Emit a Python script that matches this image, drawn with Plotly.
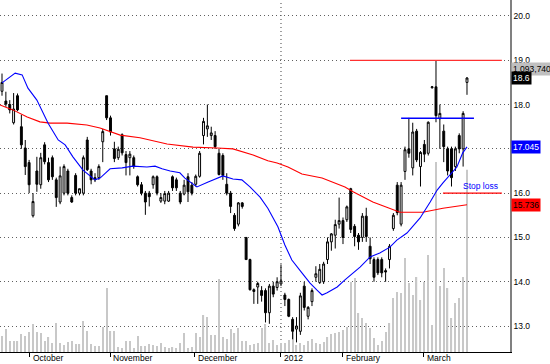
import plotly.graph_objects as go

# ---- data (trading-day index based) ----
day = list(range(121))

open_ = [18.30, 18.08, 18.00, 17.59, 18.20, 17.50, 17.02, 16.69, 15.49, 16.50,
         16.19, 17.09, 16.69, 16.80, 16.30, 15.80, 16.00, 16.50, 15.90, 16.40,
         16.00, 16.00, 17.20, 16.50, 16.30, 16.35, 17.16, 18.20, 17.70, 17.00,
         16.80, 17.32, 16.87, 16.80, 16.80, 16.37, 16.19, 16.00, 16.00, 16.19,
         16.37, 15.82, 15.82, 15.82, 16.37, 16.30, 16.00, 15.98, 16.37, 16.18,
         16.20, 16.38, 17.30, 17.45, 17.30, 17.30, 16.90, 16.85, 16.20, 16.00,
         15.50, 15.30, 15.78, 15.00, 14.50, 13.82, 13.88, 13.80, 13.80, 13.30,
         13.90, 13.87, 13.95, 13.70, 13.60, 13.15, 12.93, 12.88, 13.90, 13.22,
         13.55, 14.10, 13.98, 14.00, 14.50, 14.90, 15.05, 15.30, 15.38, 15.40,
         16.10, 15.25, 15.05, 15.00, 15.48, 14.80, 14.50, 14.50, 14.50, 14.25,
         14.50, 15.20, 16.18, 15.30, 16.49, 17.00, 16.57, 17.40, 16.60, 17.10,
         16.90, 18.38, 18.40, 17.68, 17.40, 17.00, 17.00, 16.60, 17.30, 17.00,
         18.50]
high = [18.70, 18.29, 18.10, 18.26, 18.25, 17.77, 17.20, 16.75, 16.00, 16.82,
        16.91, 17.15, 16.80, 16.85, 16.35, 16.60, 16.65, 16.55, 15.95, 16.45,
        16.10, 16.85, 17.27, 16.55, 16.45, 16.65, 17.45, 18.20, 17.75, 17.16,
        17.05, 17.35, 16.95, 16.95, 16.85, 16.40, 16.25, 16.05, 16.05, 16.40,
        16.40, 16.00, 16.05, 16.05, 16.40, 16.35, 16.05, 16.30, 16.45, 16.25,
        16.42, 16.95, 17.70, 18.00, 17.50, 17.40, 17.00, 16.90, 16.45, 16.05,
        15.55, 15.80, 15.80, 15.00, 14.52, 13.85, 14.00, 13.90, 13.85, 13.95,
        14.00, 14.10, 14.39, 13.75, 13.62, 13.20, 13.20, 13.75, 14.00, 13.45,
        13.85, 14.35, 14.40, 14.45, 15.00, 15.10, 15.40, 15.90, 15.45, 15.72,
        16.12, 15.30, 15.10, 15.55, 15.67, 15.00, 14.55, 14.55, 14.55, 14.30,
        14.85, 15.55, 16.25, 16.25, 17.05, 17.70, 17.59, 17.45, 16.95, 17.20,
        17.62, 18.42, 19.00, 18.00, 17.55, 17.05, 17.05, 17.05, 17.35, 17.85,
        18.62]
low = [18.20, 17.95, 17.80, 17.55, 17.85, 17.00, 16.41, 16.00, 15.45, 16.03,
       16.10, 16.65, 16.25, 16.30, 15.69, 15.75, 15.95, 15.95, 15.78, 15.95,
       15.95, 15.95, 16.50, 16.20, 16.25, 16.30, 16.70, 17.65, 17.30, 16.70,
       16.75, 16.85, 16.40, 16.40, 16.55, 16.15, 15.95, 15.51, 15.70, 16.10,
       15.95, 15.78, 15.75, 15.80, 16.05, 16.05, 15.75, 15.95, 15.80, 15.95,
       16.15, 16.35, 17.10, 17.27, 17.20, 17.00, 16.40, 16.30, 15.95, 15.55,
       15.15, 15.25, 15.65, 14.50, 13.80, 13.50, 13.50, 13.55, 13.08, 13.05,
       13.65, 13.80, 13.90, 13.45, 13.20, 12.70, 12.63, 12.80, 13.35, 13.15,
       13.45, 14.00, 13.95, 13.95, 14.40, 14.70, 14.75, 15.20, 14.85, 15.35,
       15.10, 14.80, 14.72, 14.90, 14.90, 14.40, 14.00, 14.15, 14.10, 14.00,
       14.30, 15.15, 15.50, 15.25, 16.30, 16.80, 16.40, 16.70, 16.15, 16.70,
       16.85, 18.36, 17.60, 17.00, 16.70, 16.40, 16.15, 16.50, 16.90, 16.60,
       18.22]
close = [18.50, 18.01, 17.88, 17.90, 17.88, 17.09, 16.60, 16.19, 15.81, 16.20,
         16.80, 16.71, 16.30, 16.37, 15.90, 16.39, 16.60, 16.00, 15.80, 16.00,
         16.10, 16.80, 16.53, 16.30, 16.35, 16.60, 17.39, 17.70, 17.38, 16.78,
         16.99, 16.91, 16.69, 16.88, 16.60, 16.19, 16.00, 15.80, 15.92, 16.37,
         16.00, 15.90, 15.99, 16.00, 16.12, 16.12, 15.80, 16.18, 16.03, 16.00,
         16.38, 16.90, 17.62, 17.52, 17.36, 17.05, 16.42, 16.40, 16.00, 15.70,
         15.20, 15.78, 15.70, 14.50, 13.82, 13.78, 13.96, 13.69, 13.30, 13.90,
         13.72, 14.00, 14.02, 13.60, 13.22, 12.88, 13.00, 13.68, 13.42, 13.42,
         13.80, 14.18, 14.28, 14.40, 14.90, 15.08, 15.29, 15.38, 15.00, 15.69,
         15.18, 15.02, 14.90, 15.48, 15.02, 14.52, 14.10, 14.20, 14.20, 14.22,
         14.80, 15.50, 15.56, 16.18, 16.98, 16.90, 17.38, 16.75, 16.92, 16.88,
         17.60, 18.40, 17.75, 17.80, 17.05, 16.50, 16.35, 17.00, 17.00, 17.80,
         18.60]
volume = [96000, 138000, 66000, 66000, 66000, 108000, 96000, 120000, 168000, 120000,
          114000, 66000, 90000, 54000, 174000, 54000, 42000, 60000, 66000, 48000,
          48000, 186000, 126000, 48000, 36000, 36000, 150000, 384000, 126000, 126000,
          30000, 24000, 66000, 66000, 24000, 96000, 36000, 36000, 48000, 42000,
          36000, 54000, 30000, 24000, 30000, 24000, 54000, 114000, 24000, 30000,
          114000, 90000, 222000, 210000, 102000, 102000, 438000, 90000, 78000, 138000,
          114000, 144000, 66000, 66000, 42000, 48000, 54000, 144000, 168000, 54000,
          72000, 42000, 54000, 54000, 72000, 120000, 42000, 54000, 42000, 66000,
          78000, 54000, 48000, 60000, 90000, 108000, 114000, 120000, 132000, 150000,
          420000, 444000, 234000, 204000, 174000, 144000, 84000, 42000, 66000, 120000,
          174000, 324000, 360000, 354000, 564000, 414000, 342000, 450000, 312000, 420000,
          582000, 162000, 1140000, 396000, 504000, 384000, 204000, 294000, 324000, 450000,
          1093740]

# moving averages (day position, value)
ma_fast_x = [0, 3.4, 5.2, 6.7, 9.0, 11.9, 14.5, 16.3, 18.3, 20.9, 24.0, 25.3, 27.9, 31.0,
             33.8, 37.4, 39.5, 41.3, 43.4, 45.9, 47.2, 50.3, 53.2, 57.0, 59.6, 61.9, 64.0,
             66.6, 68.6, 69.9, 71.2, 73.0, 74.8, 77.4, 79.5, 81.3, 82.6, 83.9, 86.5, 88.5,
             90.6, 92.4, 95.0, 97.5, 100.1, 101.9, 104.5, 107.9, 110.5, 112.3, 113.8,
             116.1, 117.4, 118.9, 120]
ma_fast_y = [18.49, 18.71, 18.67, 18.37, 18.10, 17.58, 17.20, 17.09, 16.82, 16.52, 16.30,
             16.34, 16.55, 16.57, 16.61, 16.59, 16.61, 16.55, 16.50, 16.46, 16.34, 16.14,
             16.25, 16.39, 16.32, 16.30, 16.14, 15.91, 15.66, 15.46, 15.24, 14.83, 14.49,
             14.20, 13.97, 13.81, 13.70, 13.75, 13.88, 14.04, 14.20, 14.33, 14.56, 14.65,
             14.78, 14.94, 15.10, 15.44, 15.80, 16.07, 16.23, 16.46, 16.59, 16.91, 17.045]
ma_slow_x = [-0.5, 2.8, 6.5, 9.8, 12.4, 16.8, 21.9, 25.3, 30.5, 35.6, 42.6, 49.3, 55.5,
             59.6, 64.8, 68.6, 71.0, 73.8, 77.4, 82.6, 88.5, 90.6, 95.7, 100.9, 102.7,
             108.6, 113.8, 120]
ma_slow_y = [17.99, 17.88, 17.72, 17.61, 17.58, 17.58, 17.54, 17.47, 17.31, 17.25, 17.11,
             17.04, 17.02, 17.00, 16.86, 16.73, 16.68, 16.59, 16.43, 16.34, 16.14, 16.03,
             15.80, 15.62, 15.57, 15.57, 15.66, 15.736]

month_pos = [7.2, 27.9, 49.8, 72.0, 88.0, 108.9]
month_labels = ["October", "November", "December", "2012", "February", "March"]
price_ticks = [13, 14, 15, 16, 17, 18, 19, 20]
# 17.0 is hidden under the 17.045 marker box in the original
price_tick_text = ["13.0", "14.0", "15.0", "16.0", "", "18.0", "19.0", "20.0"]

resistance = 19.0
resistance_span = [89.8, 129.0]
breakout = 17.69
breakout_span = [103.0, 121.8]
stop_loss = 16.0
stop_span = [113.8, 129.0]

last_close_label = "18.6"
fast_label = "17.045"
slow_label = "15.736"
volume_label = "1,093,740"

FONT = "Liberation Sans, Arial, sans-serif"

fig = go.Figure()

fig.add_trace(go.Bar(x=day, y=volume, yaxis="y", marker=dict(color="#c8c8c8", line=dict(width=0)),
                     width=0.32, showlegend=False, hoverinfo="skip"))

fig.add_trace(go.Scatter(x=ma_slow_x, y=ma_slow_y, yaxis="y2", mode="lines",
                         line=dict(color="#ff0000", width=1.1), showlegend=False))
fig.add_trace(go.Scatter(x=ma_fast_x, y=ma_fast_y, yaxis="y2", mode="lines",
                         line=dict(color="#0000ff", width=1.1), showlegend=False))

fig.add_trace(go.Candlestick(x=day, open=open_, high=high, low=low, close=close, yaxis="y2",
                             increasing=dict(fillcolor="#ffffff", line=dict(color="#000000", width=1)),
                             decreasing=dict(fillcolor="#000000", line=dict(color="#000000", width=1)),
                             whiskerwidth=0, showlegend=False))

fig.add_trace(go.Scatter(x=resistance_span, y=[resistance, resistance], yaxis="y2", mode="lines",
                         line=dict(color="#ff3030", width=1.2), showlegend=False))
fig.add_trace(go.Scatter(x=breakout_span, y=[breakout, breakout], yaxis="y2", mode="lines",
                         line=dict(color="#0000ff", width=1.5), showlegend=False))
fig.add_trace(go.Scatter(x=stop_span, y=[stop_loss, stop_loss], yaxis="y2", mode="lines",
                         line=dict(color="#ff0000", width=1.2), showlegend=False))

annotations = []
for pos, lab in zip(month_pos, month_labels):
    annotations.append(dict(x=pos, y=0, xref="x", yref="paper", text=lab, showarrow=False,
                            xanchor="left", yanchor="top", xshift=1, yshift=1,
                            font=dict(family=FONT, size=8.5, color="#000000")))

annotations.append(dict(x=123.4, y=16.16, xref="x", yref="y2", text="Stop loss", showarrow=False,
                        font=dict(family=FONT, size=8.5, color="#0000ff")))

def side_label(y, yref, text, bg, fg):
    return dict(x=1, y=y, xref="paper", yref=yref, text=text, showarrow=False,
                xanchor="left", yanchor="middle", xshift=1, bgcolor=bg, borderpad=1,
                font=dict(family=FONT, size=8.5, color=fg))

annotations.append(side_label(0.805, "paper", volume_label, "#c0c0c0", "#000000"))
annotations.append(side_label(18.6, "y2", last_close_label, "#000000", "#ffffff"))
annotations.append(side_label(17.045, "y2", fast_label, "#0000ff", "#ffffff"))
annotations.append(side_label(15.736, "y2", slow_label, "#ff0000", "#000000"))

fig.update_layout(
    width=550, height=364,
    margin=dict(l=0, r=40, t=0, b=12),
    paper_bgcolor="#ffffff", plot_bgcolor="#ffffff",
    showlegend=False, boxgap=0.3,
    xaxis=dict(range=[-0.516, 131.1], showgrid=False, zeroline=False, rangeslider=dict(visible=False),
               tickmode="array", tickvals=month_pos, ticktext=[""] * len(month_pos),
               ticks="outside", ticklen=4, tickcolor="#000000", tickwidth=1,
               showline=True, linecolor="#000000", linewidth=1, fixedrange=True),
    yaxis=dict(range=[0, 2112000], showgrid=False, zeroline=False, showticklabels=False,
               showline=False, fixedrange=True),
    yaxis2=dict(range=[12.413, 20.361], overlaying="y", side="right", tickmode="array",
                tickvals=price_ticks, ticktext=price_tick_text,
                showgrid=True, gridcolor="#606060", gridwidth=1, griddash="1px,3px",
                zeroline=False, showline=True, linecolor="#808080", linewidth=1.5,
                ticks="", tickfont=dict(family=FONT, size=8.5, color="#000000"), fixedrange=True),
    annotations=annotations,
    shapes=[dict(type="line", xref="x", yref="paper", x0=month_pos[3], x1=month_pos[3], y0=0, y1=1,
                 line=dict(color="#808080", width=1.5, dash="1px,3px"), layer="below")],
)

fig.write_html("out.html")
